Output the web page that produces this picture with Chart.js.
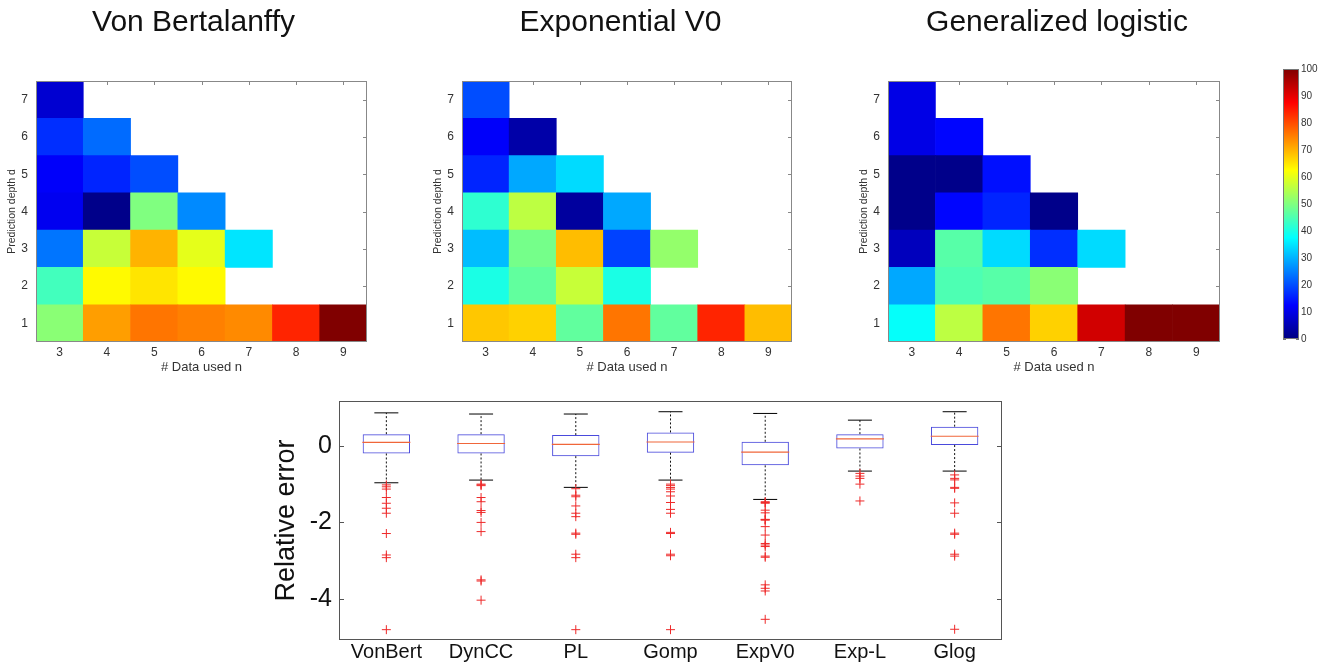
<!DOCTYPE html>
<html>
<head>
<meta charset="utf-8">
<title>Prediction error maps and relative error</title>
<script src="https://cdn.jsdelivr.net/npm/chart.js@4.4.1/dist/chart.umd.min.js"></script>
<style>
  html,body{margin:0;padding:0;background:#fff}
  body{position:relative;width:1329px;height:664px;overflow:hidden}
  .panel{position:absolute}
</style>
</head>
<body>
<div class="panel" style="left:0;top:0;width:387px;height:378px"><canvas id="heatVB"></canvas></div>
<div class="panel" style="left:426px;top:0;width:389px;height:378px"><canvas id="heatExp"></canvas></div>
<div class="panel" style="left:852px;top:0;width:410px;height:378px"><canvas id="heatGL"></canvas></div>
<div class="panel" style="left:1283px;top:60px;width:40px;height:285px"><canvas id="colorbar"></canvas></div>
<div class="panel" style="left:270px;top:390px;width:735px;height:274px"><canvas id="boxes"></canvas></div>
<script>
// --- heatmaps: rows = prediction depth d (1..7), columns = # data used n (3..9), null = not computed
const nLabels = ['3','4','5','6','7','8','9'];
const depthTicks = [1,2,3,4,5,6,7];
const colorTicks = [0,10,20,30,40,50,60,70,80,90,100];

const vonBertalanffy = [
  [51, 72, 76, 75, 74, 84, 100],
  [44, 63, 65, 63, null, null, null],
  [24, 57, 70, 60, 35, null, null],
  [11, 1, 50, 26, null, null, null],
  [12, 16, 20, null, null, null, null],
  [17, 23, null, null, null, null, null],
  [8, null, null, null, null, null, null]
];
const exponentialV0 = [
  [68, 67, 47, 76, 47, 84, 69],
  [40, 47, 57, 40, null, null, null],
  [31, 49, 69, 19, 52, null, null],
  [42, 56, 3, 29, null, null, null],
  [16, 29, 34, null, null, null, null],
  [12, 4, null, null, null, null, null],
  [20, null, null, null, null, null, null]
];
const generalizedLogistic = [
  [38, 56, 76, 67, 92, 100, 100],
  [29, 45, 46, 51, null, null, null],
  [6, 46, 34, 17, 34, null, null],
  [1, 13, 16, 1, null, null, null],
  [1, 1, 14, null, null, null, null],
  [10, 13, null, null, null, null, null],
  [10, null, null, null, null, null, null]
];

// --- boxplot of relative error
const models = ['VonBert','DynCC','PL','Gomp','ExpV0','Exp-L','Glog'];
const boxTicks = [-4,-2,0];
const q1 = [-0.2, -0.2, -0.27, -0.18, -0.51, -0.07, 0.02];
const medians = [0.09, 0.06, 0.04, 0.10, -0.165, 0.18, 0.25];
const q3 = [0.305, 0.305, 0.28, 0.35, 0.105, 0.305, 0.5];
const whiskerLow = [-0.965, -0.895, -1.085, -0.895, -1.4, -0.66, -0.66];
const whiskerHigh = [0.86, 0.83, 0.83, 0.89, 0.845, 0.67, 0.89];
const outliers = [
  [-1.02,-1.07,-1.13,-1.35,-1.5,-1.63,-1.76,-2.29,-2.85,-2.92,-4.8],
  [-1.0,-1.02,-1.04,-1.35,-1.46,-1.69,-1.74,-2.0,-2.24,-3.5,-3.53,-4.03],
  [-1.12,-1.29,-1.33,-1.57,-1.76,-1.85,-2.28,-2.31,-2.83,-2.92,-4.8],
  [-1.0,-1.04,-1.09,-1.13,-1.2,-1.31,-1.48,-1.66,-1.76,-2.26,-2.29,-2.83,-2.87,-4.8],
  [-1.46,-1.48,-1.5,-1.68,-1.75,-1.92,-1.93,-1.94,-2.11,-2.33,-2.55,-2.59,-2.63,-2.88,-2.91,-3.63,-3.72,-3.79,-4.53],
  [-0.72,-0.79,-0.85,-1.0,-1.44],
  [-0.76,-0.85,-0.89,-1.085,-1.11,-1.49,-1.76,-2.28,-2.31,-2.83,-2.88,-4.79]
];

// matlab style jet colormap, v in 0..100
function jet(v){
  const t = v / 100;
  const c = x => Math.round(255 * Math.max(0, Math.min(1, x)));
  return `rgb(${c(1.5 - Math.abs(4*t - 3))},${c(1.5 - Math.abs(4*t - 2))},${c(1.5 - Math.abs(4*t - 1))})`;
}

// axes box + small inner ticks, like matlab
const framePlugin = {
  id: 'frame',
  beforeDatasetsDraw(chart, args, opts){
    if (!opts.tick) return;
    const {ctx, chartArea: a, scales} = chart;
    ctx.save();
    ctx.strokeStyle = opts.color; ctx.lineWidth = 1;
    ctx.beginPath();
    const y = scales.y;
    y.ticks.forEach(t => {
      const p = Math.round(y.getPixelForValue(t.value)) + 0.5;
      ctx.moveTo(a.left, p); ctx.lineTo(a.left + opts.tick, p);
      ctx.moveTo(a.right, p); ctx.lineTo(a.right - opts.tick, p);
    });
    if (opts.xTicks){
      const x = scales.x;
      x.ticks.forEach((t, i) => {
        const p = Math.round(x.getPixelForTick(i)) + 0.5;
        ctx.moveTo(p, a.bottom); ctx.lineTo(p, a.bottom - opts.tick);
        ctx.moveTo(p, a.top); ctx.lineTo(p, a.top + opts.tick);
      });
    }
    ctx.stroke();
    ctx.restore();
  },
  afterDatasetsDraw(chart, args, opts){
    const {ctx, chartArea: a} = chart;
    ctx.save();
    ctx.strokeStyle = opts.color; ctx.lineWidth = 1;
    ctx.strokeRect(Math.round(a.left) + 0.5, Math.round(a.top) + 0.5,
                   Math.round(a.right - a.left) - 1, Math.round(a.bottom - a.top) - 1);
    ctx.restore();
  },
  defaults: { color: '#777', tick: 0, xTicks: false }
};
Chart.register(framePlugin);

Chart.defaults.font.family = '"Liberation Sans", Arial, Helvetica, sans-serif';
Chart.defaults.color = '#333';
Chart.defaults.animation = false;
Chart.defaults.events = [];
Chart.defaults.maintainAspectRatio = false;
Chart.defaults.plugins.legend.display = false;
Chart.defaults.plugins.tooltip.enabled = false;

function heatmap(id, title, values, rightPad){
  const datasets = depthTicks.map((d, i) => ({
    data: values[i].map(v => v == null ? null : [d - 0.5, d + 0.5]),
    backgroundColor: values[i].map(v => v == null ? 'rgba(0,0,0,0)' : jet(v)),
    borderWidth: 0,
    grouped: false,
    barPercentage: 1,
    categoryPercentage: 1
  }));
  const scales = {
    x: {
      grid: {display: false, drawTicks: false}, border: {display: false},
      ticks: {padding: 3, font: {size: 12}},
      title: {display: true, text: '# Data used n', font: {size: 13}, padding: {top: 0, bottom: 3}},
      afterFit: s => { s.height = 36; s.paddingLeft = 0; s.paddingRight = 0; }
    },
    y: {
      min: 0.5, max: 7.5,
      grid: {display: false, drawTicks: false}, border: {display: false},
      afterBuildTicks: s => { s.ticks = depthTicks.map(v => ({value: v})); },
      ticks: {padding: 8, font: {size: 12}},
      title: {display: true, text: 'Prediction depth d', font: {size: 10.5}, padding: {top: 6, bottom: 0}},
      afterFit: s => { s.width = 36; s.paddingTop = 0; s.paddingBottom = 0; }
    },
    // empty right axis, only keeps the plot where it belongs while the title stays centred
    pad: {
      position: 'right', display: true,
      grid: {display: false}, border: {display: false}, ticks: {display: false},
      afterFit: s => { s.width = rightPad; s.paddingTop = 0; s.paddingBottom = 0; }
    }
  };
  new Chart(document.getElementById(id), {
    type: 'bar',
    data: {labels: nLabels, datasets},
    options: {
      layout: {padding: 0, autoPadding: false},
      plugins: {
        title: {display: true, text: title, color: '#111', font: {size: 30, weight: 'normal'}, padding: {top: 5, bottom: 40}},
        frame: {color: '#888', tick: 4, xTicks: true}
      },
      scales
    }
  });
}

heatmap('heatVB', 'Von Bertalanffy', vonBertalanffy, 20);
heatmap('heatExp', 'Exponential V0', exponentialV0, 23);
heatmap('heatGL', 'Generalized logistic', generalizedLogistic, 42);

// colorbar
new Chart(document.getElementById('colorbar'), {
  type: 'bar',
  data: {
    labels: [''],
    datasets: [{
      data: [[colorTicks[0], colorTicks[colorTicks.length - 1]]],
      backgroundColor: c => {
        const a = c.chart.chartArea;
        if (!a) return null;
        const g = c.chart.ctx.createLinearGradient(0, a.bottom, 0, a.top);
        for (let k = 0; k <= 64; k++) g.addColorStop(k / 64, jet(k * 100 / 64));
        return g;
      },
      borderWidth: 0, barPercentage: 1, categoryPercentage: 1
    }]
  },
  options: {
    layout: {padding: {top: 9, bottom: 6}, autoPadding: false},
    plugins: {frame: {color: '#777', tick: 3}},
    scales: {
      x: {display: false},
      y: {
        position: 'right', min: 0, max: 100,
        grid: {display: false, drawTicks: false}, border: {display: false},
        afterBuildTicks: s => { s.ticks = colorTicks.map(v => ({value: v})); },
        ticks: {padding: 2, font: {size: 10}},
        afterFit: s => { s.width = 24; s.paddingTop = 0; s.paddingBottom = 0; }
      }
    }
  }
});

// boxplot
const whiskerPts = [];
const capPts = [];
models.forEach((m, i) => {
  whiskerPts.push({x: m, y: q3[i]}, {x: m, y: whiskerHigh[i]}, {x: m, y: null},
                  {x: m, y: q1[i]}, {x: m, y: whiskerLow[i]}, {x: m, y: null});
  capPts.push({x: m, y: whiskerHigh[i]}, {x: m, y: whiskerLow[i]});
});
const outlierPts = [];
models.forEach((m, i) => outliers[i].forEach(v => outlierPts.push({x: m, y: v})));

new Chart(document.getElementById('boxes'), {
  type: 'bar',
  data: {
    labels: models,
    datasets: [
      {
        type: 'bar', order: 4,
        data: models.map((m, i) => [q1[i], q3[i]]),
        backgroundColor: 'rgba(255,255,255,0)', borderColor: '#4a4adc', borderWidth: 1,
        borderSkipped: false, barPercentage: 0.5, categoryPercentage: 1
      },
      {
        type: 'line', order: 3, data: whiskerPts,
        borderColor: '#111', borderWidth: 1, borderDash: [2, 2], pointRadius: 0, spanGaps: false
      },
      {
        type: 'line', order: 2, data: capPts, showLine: false,
        pointStyle: 'line', pointRadius: 12, pointBorderColor: '#000', pointBorderWidth: 1
      },
      {
        type: 'line', order: 1, data: models.map((m, i) => ({x: m, y: medians[i]})), showLine: false,
        pointStyle: 'line', pointRadius: 24, pointBorderColor: '#f0663a', pointBorderWidth: 1.2
      },
      {
        type: 'line', order: 0, data: outlierPts, showLine: false,
        pointStyle: 'cross', pointRadius: 4.5, pointBorderColor: '#ee2a2a', pointBorderWidth: 1
      }
    ]
  },
  options: {
    layout: {padding: {top: 11, right: 3}, autoPadding: false},
    plugins: {frame: {color: '#555', tick: 5}},
    scales: {
      x: {
        grid: {display: false, drawTicks: false}, border: {display: false},
        ticks: {padding: 0, color: '#111', font: {size: 20}},
        afterFit: s => { s.height = 24; s.paddingLeft = 0; s.paddingRight = 0; }
      },
      y: {
        min: -5.07, max: 1.17,
        grid: {display: false, drawTicks: false}, border: {display: false},
        afterBuildTicks: s => { s.ticks = boxTicks.map(v => ({value: v})); },
        ticks: {padding: 7, color: '#111', font: {size: 25}},
        title: {display: true, text: 'Relative error', color: '#111', font: {size: 27}, padding: 0},
        afterFit: s => { s.width = 69; s.paddingTop = 0; s.paddingBottom = 0; }
      }
    }
  }
});
</script>
</body>
</html>
